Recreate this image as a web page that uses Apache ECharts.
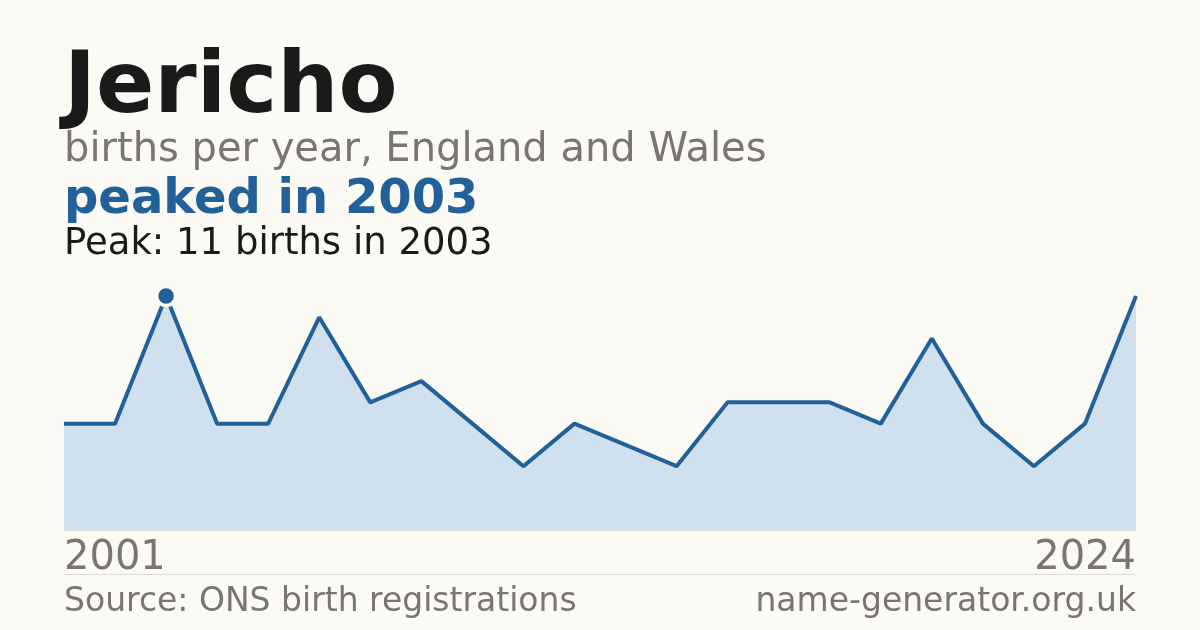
<!DOCTYPE html>
<html>
<head>
<meta charset="utf-8">
<script src="https://cdn.jsdelivr.net/npm/echarts@6/dist/echarts.min.js"></script>
<style>
  html, body { margin: 0; padding: 0; background: #fbfaf5; }
  #chart { width: 1200px; height: 630px; }
</style>
</head>
<body>
<div id="chart"></div>
<script>
// Data (22 plotted years)
const years = ['2001','2002','2003','2004','2005','2006','2007','2008','2009','2010','2011','2012','2013','2014','2016','2017','2018','2019','2020','2022','2023','2024'];
const births = [5, 5, 11, 5, 5, 10, 6, 7, 5, 3, 5, 4, 3, 6, 6, 6, 5, 9, 5, 3, 5, 11];
const axisLabels = ['2001', '2024'];

const titleText = 'Jericho';
const subtitleText = 'births per year, England and Wales';
const headlineText = 'peaked in 2003';
const peakText = 'Peak: 11 births in 2003';
const sourceText = 'Source: ONS birth registrations';
const siteText = 'name-generator.org.uk';

const BG = '#fbfaf5';
const BLUE = '#22609a';
const GRAY = '#79756f';
const FONT = '"DejaVu Sans", sans-serif';

let peakIdx = 0;
births.forEach((v, i) => { if (v > births[peakIdx]) peakIdx = i; });

const chart = echarts.init(document.getElementById('chart'), null, { renderer: 'canvas' });
chart.setOption({
  backgroundColor: BG,
  animation: false,
  grid: { left: 64, right: 64, top: 296, bottom: 100, containLabel: false },
  xAxis: {
    type: 'category',
    data: years,
    boundaryGap: false,
    axisLine: { show: true, lineStyle: { color: '#dddbd5', width: 1 } },
    axisTick: { show: false },
    splitLine: { show: false },
    axisLabel: {
      show: true,
      interval: (i) => i === 0 || i === years.length - 1,
      formatter: (v, i) => (i === 0 ? axisLabels[0] : axisLabels[1]),
      alignMinLabel: 'left',
      alignMaxLabel: 'right',
      color: GRAY,
      fontFamily: FONT,
      fontSize: 40,
      margin: 9
    }
  },
  yAxis: {
    type: 'value',
    min: 0,
    max: 11,
    show: false,
    splitLine: { show: false }
  },
  series: [
    {
      type: 'line',
      data: births,
      showSymbol: false,
      symbol: 'none',
      lineStyle: { color: BLUE, width: 4 },
      areaStyle: { color: '#d0e0ef', opacity: 1 },
      z: 2
    },
    {
      type: 'scatter',
      data: [[peakIdx, births[peakIdx]]],
      symbol: 'circle',
      symbolSize: 19,
      itemStyle: { color: BLUE, borderColor: BG, borderWidth: 3.5, opacity: 1 },
      z: 5
    }
  ],
  graphic: [
    { type: 'text', left: 64, top: 47, style: { text: titleText, font: 'bold 86px ' + FONT, fill: '#1a1a1a' } },
    { type: 'text', left: 64, top: 131, style: { text: subtitleText, font: '40px ' + FONT, fill: GRAY } },
    { type: 'text', left: 64, top: 177, style: { text: headlineText, font: 'bold 48px ' + FONT, fill: BLUE } },
    { type: 'text', left: 64, top: 226, style: { text: peakText, font: '37px ' + FONT, fill: '#1a1a1a' } },
    { type: 'line', shape: { x1: 64, y1: 574.5, x2: 1136, y2: 574.5 }, style: { stroke: '#dddbd5', lineWidth: 1 } },
    { type: 'text', left: 64, top: 586, style: { text: sourceText, font: '33px ' + FONT, fill: GRAY } },
    { type: 'text', right: 64, top: 586, style: { text: siteText, font: '33px ' + FONT, fill: GRAY, textAlign: 'right' } }
  ]
});
</script>
</body>
</html>
